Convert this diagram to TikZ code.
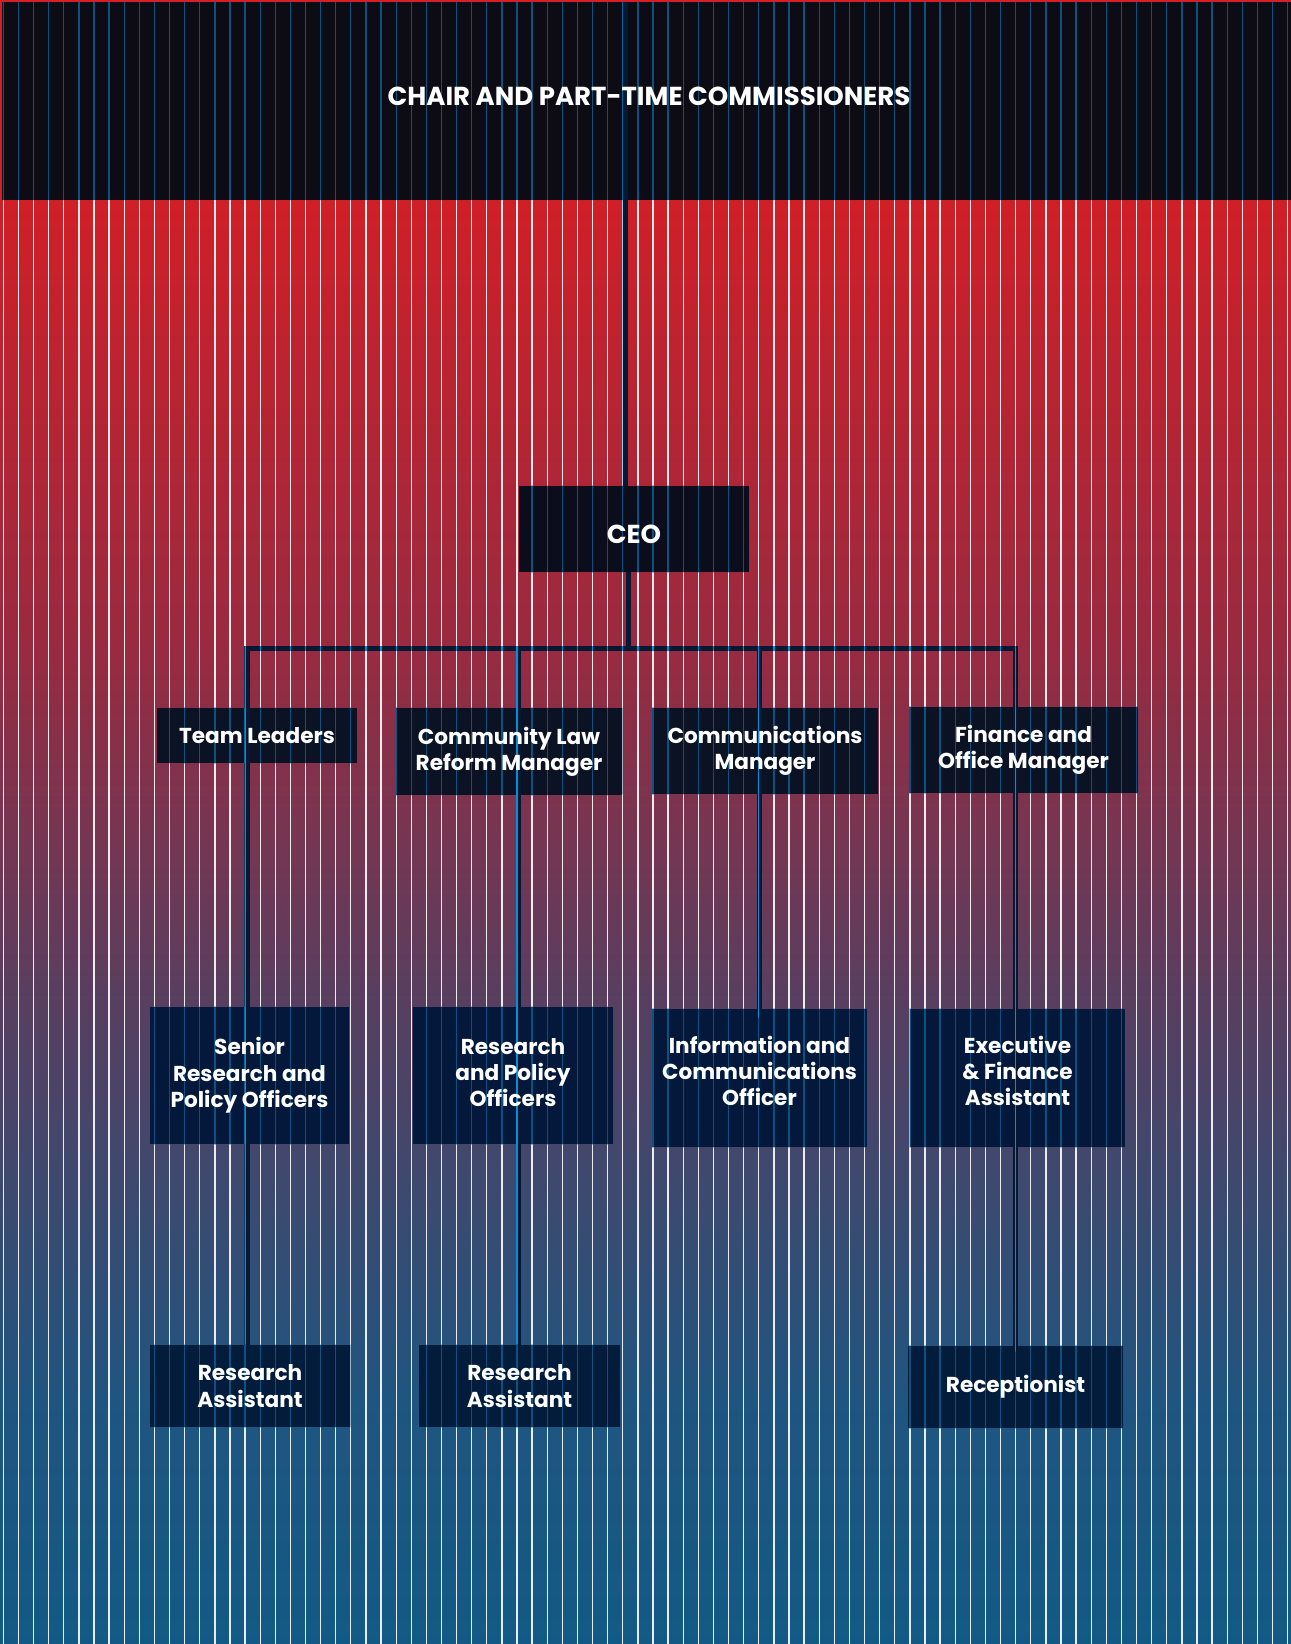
\documentclass[tikz,border=0pt]{standalone}
\usepackage{fontspec}
\setmainfont{Poppins}
\usepackage{xcolor}
\usepackage{tikz}
\usetikzlibrary{calc}
\definecolor{bandblack}{RGB}{13,11,20}
\definecolor{framered}{RGB}{212,31,42}
\definecolor{bgred}{RGB}{208,31,39}
\definecolor{bgrose}{RGB}{154,42,64}
\definecolor{bgplum}{RGB}{88,63,96}
\definecolor{bgsteel}{RGB}{31,85,128}
\definecolor{bgblue}{RGB}{18,90,133}
\definecolor{linenavy}{RGB}{5,24,52}
\definecolor{stripeblue}{RGB}{11,82,128}
\definecolor{glowblue}{RGB}{10,140,215}
\definecolor{boxceo}{RGB}{11,13,28}
\definecolor{boxone}{RGB}{10,18,36}
\definecolor{boxtwo}{RGB}{3,24,58}
\definecolor{boxthree}{RGB}{3,28,60}
\pgfdeclarelayer{back}
\pgfsetlayers{back,main}
\tikzset{
    role/.style={align=center, text=white, inner sep=0pt, text depth=3.4pt, font=\bfseries\fontsize{12.3}{15}\selectfont},
    heading/.style={role, text depth=0pt, font=\bfseries\fontsize{14.8}{18}\selectfont},
    link/.style={draw=linenavy, line width=2.85pt},
    whitestripe/.style={white, opacity=0.9, line width=0.75pt},
    bluestripe/.style={stripeblue, line width=0.75pt},
    glowstripe/.style={glowblue, line width=0.75pt}
}
\newcommand{\pinstripes}[1]{\foreach \k in {0,...,85} \draw[#1] ({3.3+15.11*\k},0) -- ++(0,1644);}

\begin{document}
\begin{tikzpicture}[x=0.02cm, y=-0.02cm]
    \useasboundingbox (0,1644) rectangle (1291,0);

    % Board
    \node[heading] (board) at (649,96) {CHAIR AND PART-TIME COMMISSIONERS};

    % CEO
    \node[heading, minimum width=4.6cm, minimum height=1.72cm, text height=17pt] (ceo) at (634,529) {CEO};

    % Managers
    \node[role, minimum width=4cm, minimum height=1.1cm, text depth=0pt] (tl) at (257,735.5) {Team Leaders};
    \node[role, minimum width=4.52cm, minimum height=1.74cm] (clrm) at (509,751.5) {Community Law\\Reform Manager};
    \node[role, minimum width=4.52cm, minimum height=1.72cm] (cm) at (765,751) {Communications\\Manager};
    \node[role, minimum width=4.58cm, minimum height=1.72cm] (fom) at (1023.5,750) {Finance and\\Office Manager};

    % Officers
    \node[role, minimum width=3.98cm, minimum height=2.74cm] (srpo) at (249.5,1075.5) {Senior\\Research and\\Policy Officers};
    \node[role, minimum width=3.98cm, minimum height=2.74cm] (rpo) at (513,1075.5) {Research\\and Policy\\Officers};
    \node[role, minimum width=4.3cm, minimum height=2.76cm, text depth=8pt] (ico) at (759.5,1078) {Information and\\Communications\\Officer};
    \node[role, minimum width=4.3cm, minimum height=2.76cm, text depth=8pt] (efa) at (1017.5,1078) {Executive\\\& Finance\\Assistant};

    % Assistants
    \node[role, minimum width=4cm, minimum height=1.64cm, text depth=0pt] (ra1) at (250,1386) {Research\\Assistant};
    \node[role, minimum width=4.02cm, minimum height=1.64cm, text depth=0pt] (ra2) at (519.5,1386) {Research\\Assistant};
    \node[role, minimum width=4.3cm, minimum height=1.64cm] (rec) at (1015.5,1387) {Receptionist};

    % Junctions
    \coordinate (top) at (625,2);
    \coordinate (hub) at (628,648.5);
    \coordinate (b1) at (247,648.5);
    \coordinate (b2) at (518,648.5);
    \coordinate (b3) at (759.5,648.5);
    \coordinate (b4) at (1015.5,648.5);

    \begin{pgfonlayer}{back}
        % Background
        \shade[top color=bgred, bottom color=bgrose] (0,641) rectangle (1291,200);
        \shade[top color=bgrose, bottom color=bgplum] (0,1001) rectangle (1291,640);
        \shade[top color=bgplum, bottom color=bgsteel] (0,1401) rectangle (1291,1000);
        \shade[top color=bgsteel, bottom color=bgblue] (0,1644) rectangle (1291,1400);
        \pinstripes{whitestripe}

        % Band
        \fill[framered] (0,200) rectangle (1291,0);
        \fill[bandblack] (2.5,200) rectangle (1291,2);

        % Boxes
        \fill[boxceo] (ceo.south west) rectangle (ceo.north east);
        \foreach \n in {tl,clrm,cm,fom}
            \fill[boxone] (\n.south west) rectangle (\n.north east);
        \foreach \n in {srpo,rpo,ico,efa}
            \fill[boxtwo] (\n.south west) rectangle (\n.north east);
        \foreach \n in {ra1,ra2,rec}
            \fill[boxthree] (\n.south west) rectangle (\n.north east);

        % Connectors
        \draw[link] (top) -- (top |- ceo.north);
        \draw[link] (hub |- ceo.south) -- (hub);
        \draw[link] (b1 |- ra1.north) -- (b1) -- (b4) -- ($(b4 |- rec.north)+(0,6)$);
        \draw[link] (b2) -- (b2 |- ra2.north);
        \draw[link] (b3) -- ($(b3 |- ico.north)+(0,9)$);

        % Stripes on dark parts
        \begin{scope}
            \clip (0,200) rectangle (1291,2)
                (ceo.south west) rectangle (ceo.north east)
                (tl.south west) rectangle (tl.north east)
                (clrm.south west) rectangle (clrm.north east)
                (cm.south west) rectangle (cm.north east)
                (fom.south west) rectangle (fom.north east)
                (srpo.south west) rectangle (srpo.north east)
                (rpo.south west) rectangle (rpo.north east)
                (ico.south west) rectangle (ico.north east)
                (efa.south west) rectangle (efa.north east)
                (ra1.south west) rectangle (ra1.north east)
                (ra2.south west) rectangle (ra2.north east)
                (rec.south west) rectangle (rec.north east);
            \pinstripes{bluestripe}
        \end{scope}
        \begin{scope}
            \clip ($(top |- ceo.north)+(-2.5,0)$) rectangle ($(top)+(2.5,0)$)
                ($(b1)+(-2.5,2.5)$) rectangle ($(b4)+(2.5,-2.5)$)
                ($(b1 |- ra1.north)+(-2.5,0)$) rectangle ($(b1)+(2.5,0)$)
                ($(b2 |- ra2.north)+(-2.5,0)$) rectangle ($(b2)+(2.5,0)$)
                ($(b3 |- ico.north)+(-2.5,9)$) rectangle ($(b3)+(2.5,0)$)
                ($(b4 |- rec.north)+(-2.5,6)$) rectangle ($(b4)+(2.5,0)$);
            \pinstripes{glowstripe}
        \end{scope}
    \end{pgfonlayer}
\end{tikzpicture}
\end{document}
